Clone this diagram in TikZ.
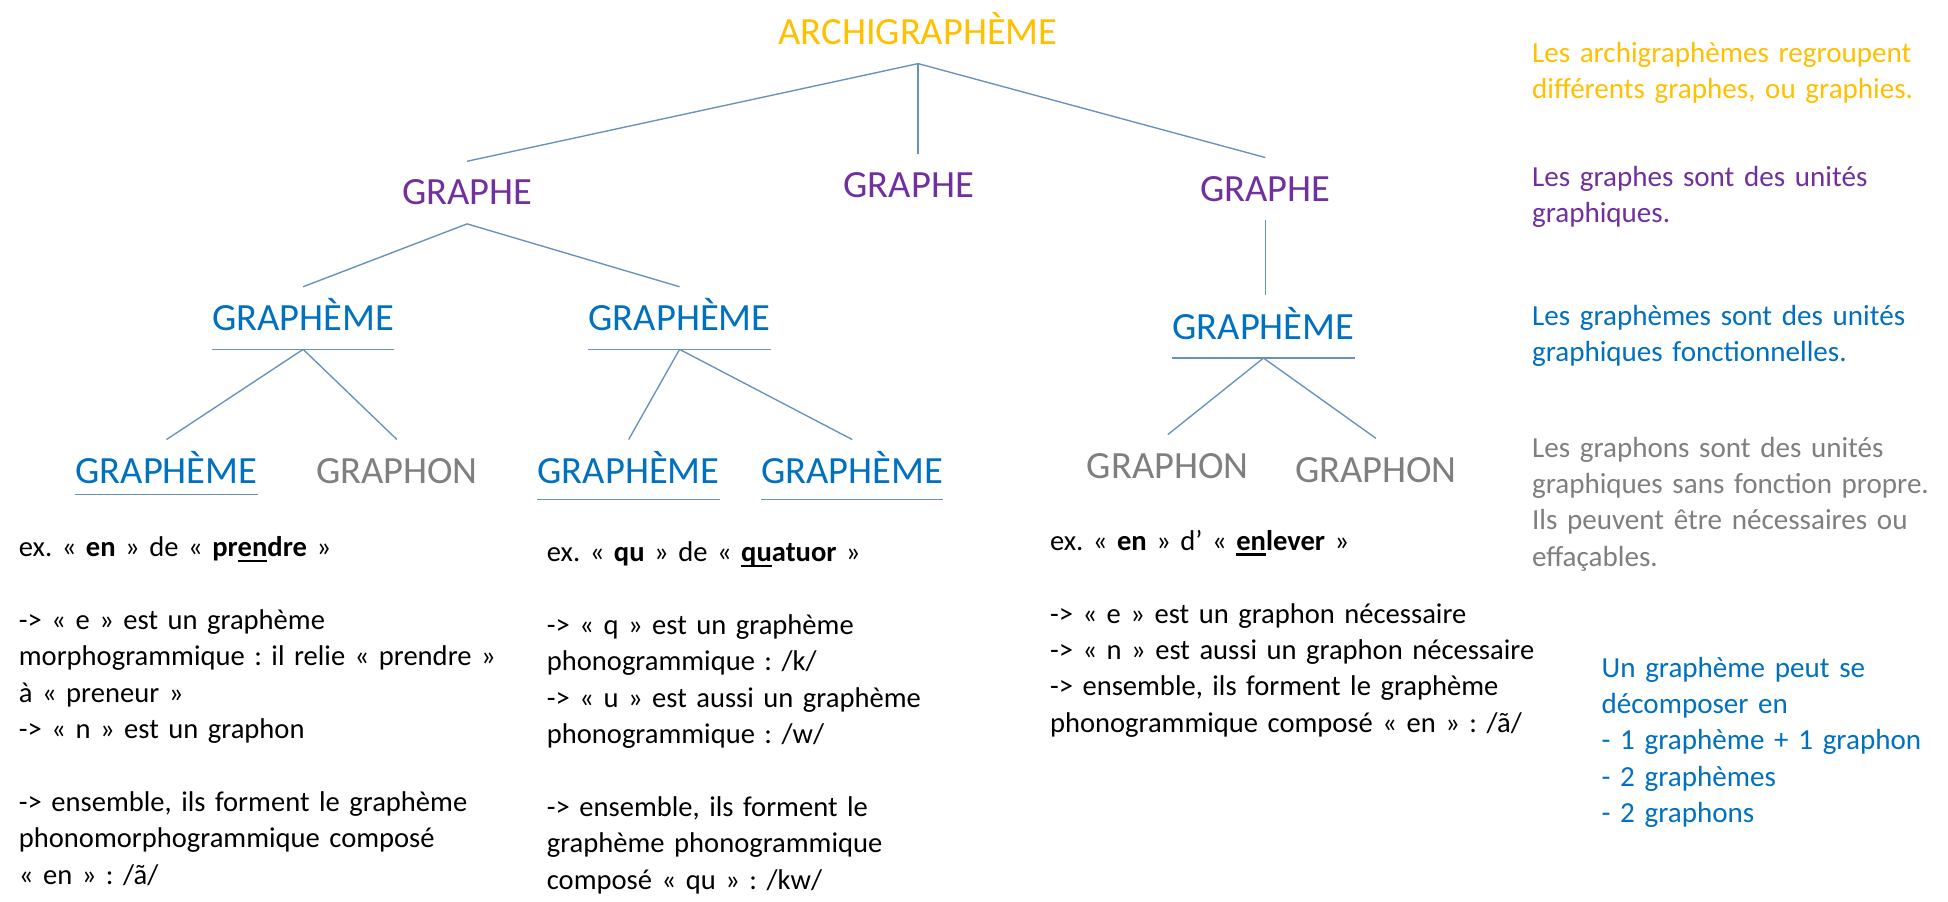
\documentclass[tikz,border=0pt]{standalone}
\usepackage{fontspec}
\setmainfont{Carlito}
\frenchspacing
\definecolor{jaune}{HTML}{FFC000}
\definecolor{pourpre}{HTML}{7030A0}
\definecolor{bleu}{HTML}{0070C0}
\definecolor{gris}{HTML}{7F7F7F}
\definecolor{lien}{HTML}{6792BE}
\newcommand\souligne[1]{\setbox0=\hbox{#1}\rlap{\rule[-4.5pt]{\wd0}{2pt}}\box0}
\tikzset{
	niveau/.style={inner xsep=0pt,inner ysep=15pt,text height=20pt,text depth=0pt,anchor=base,font=\fontsize{31}{37}\selectfont},
	trait/.style={draw=lien,line width=1.1pt},
	texte/.style={inner sep=0pt,anchor=base west,align=left,text width=450pt,font=\fontsize{23.4}{29.3}\selectfont\frenchspacing},
	exemple/.style={texte,font=\fontsize{23}{29.3}\selectfont\frenchspacing},
}
\begin{document}
\begin{tikzpicture}[x=1pt,y=1pt]
	
	\useasboundingbox[fill=white](0,0) rectangle (1568,-726.04);
	
	\node[niveau,jaune] (archi) at (739,-36){ARCHIGRAPHÈME};
	\node[niveau,pourpre] (grapheA) at (376,-165){GRAPHE};
	\node[niveau,pourpre] (grapheB) at (731.5,-159){GRAPHE};
	\node[niveau,pourpre] (grapheC) at (1018.5,-162){GRAPHE};
	\node[niveau,bleu] (gmA) at (244,-266){GRAPHÈME};
	\node[niveau,bleu] (gmB) at (547,-266){GRAPHÈME};
	\node[niveau,bleu] (gmC) at (1017,-273){GRAPHÈME};
	\node[niveau,bleu] (gmA1) at (134,-389){GRAPHÈME};
	\node[niveau,gris] (gnA2) at (319.5,-389){GRAPHON};
	\node[niveau,bleu] (gmB1) at (506,-389){GRAPHÈME};
	\node[niveau,bleu] (gmB2) at (686,-389){GRAPHÈME};
	\node[niveau,gris] (gnC1) at (940,-385){GRAPHON};
	\node[niveau,gris] (gnC2) at (1107.5,-388){GRAPHON};
	
	\draw[trait](archi.south)--(grapheA.north);
	\draw[trait](archi.south)--(archi.south |- grapheB.north);
	\draw[trait](archi.south)--(grapheC.north);
	\draw[trait](grapheA.south)--(gmA.north);
	\draw[trait](grapheA.south)--(gmB.north);
	\draw[trait](grapheC.south)--(grapheC.south |- gmC.north);
	
	\draw[trait](gmA.south west)--(gmA.south east);
	\draw[trait](gmB.south west)--(gmB.south east);
	\draw[trait](gmC.south west)--(gmC.south east);
	\draw[trait](gmA.south)--(gmA1.north);
	\draw[trait](gmA.south)--(gnA2.north);
	\draw[trait](gmB.south)--(gmB1.north);
	\draw[trait](gmB.south)--(gmB2.north);
	\draw[trait](gmC.south)--(gnC1.north);
	\draw[trait](gmC.south)--(gnC2.north);
	
	\draw[trait]([yshift=6pt]gmA1.south west)--([yshift=6pt]gmA1.south east);
	\draw[trait]([yshift=2pt]gmB1.south west)--([yshift=2pt]gmB1.south east);
	\draw[trait]([yshift=2pt]gmB2.south west)--([yshift=2pt]gmB2.south east);
	
	\node[exemple] (exA) at (15,-448){ex. « \textbf{en} » de « \textbf{pr\souligne{en}dre} »\\[29.3pt]
		-> « e » est un graphème\\
		morphogrammique : il relie « prendre »\\
		à « preneur »\\
		-> « n » est un graphon\\[29.3pt]
		-> ensemble, ils forment le graphème\\
		phonomorphogrammique composé\\
		« en » : /ã/};
	\node[exemple] (exB) at (440,-452){ex. « \textbf{qu} » de « \textbf{\souligne{qu}atuor} »\\[29.3pt]
		-> « q » est un graphème\\
		phonogrammique : /k/\\
		-> « u » est aussi un graphème\\
		phonogrammique : /w/\\[29.3pt]
		-> ensemble, ils forment le\\
		graphème phonogrammique\\
		composé « qu » : /kw/};
	\node[exemple] (exC) at (845,-443){ex. « \textbf{en} » d’ « \textbf{\souligne{en}lever} »\\[29.3pt]
		-> « e » est un graphon nécessaire\\
		-> « n » est aussi un graphon nécessaire\\
		-> ensemble, ils forment le graphème\\
		phonogrammique composé « en » : /ã/};
	
	\node[texte,jaune] (defArchi) at (1233,-50){Les archigraphèmes regroupent\\différents graphes, ou graphies.};
	\node[texte,pourpre] (defGraphe) at (1233,-150){Les graphes sont des unités\\graphiques.};
	\node[texte,bleu] (defGrapheme) at (1233,-262){Les graphèmes sont des unités\\graphiques fonctionnelles.};
	\node[texte,gris] (defGraphon) at (1233,-368){Les graphons sont des unités\\graphiques sans fonction propre.\\Ils peuvent être nécessaires ou\\effaçables.};
	\node[texte,bleu] (decomp) at (1289,-545){Un graphème peut se\\décomposer en\\- 1 graphème + 1 graphon\\- 2 graphèmes\\- 2 graphons};
	
\end{tikzpicture}
\end{document}
